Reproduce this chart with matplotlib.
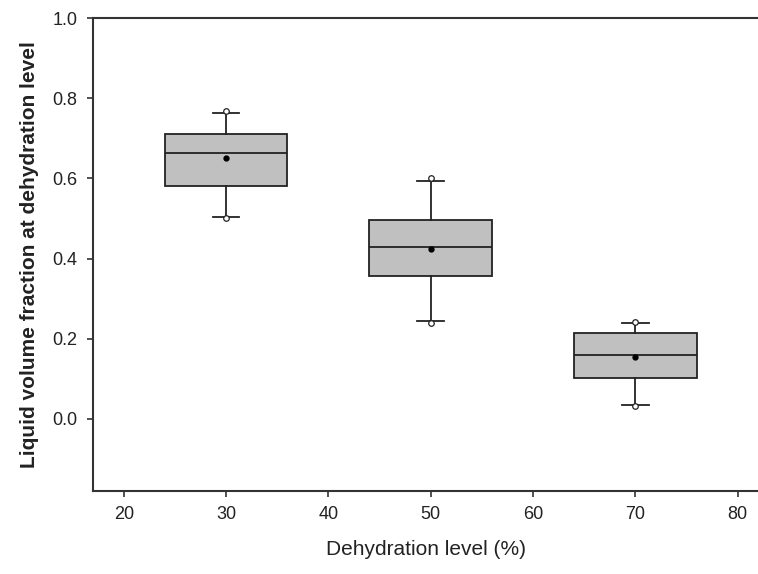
import matplotlib.pyplot as plt

plt.rcParams['font.family'] = ['Liberation Sans', 'DejaVu Sans']

# box statistics
levels = [30, 50, 70]
q1 = [0.582, 0.357, 0.101]
med = [0.663, 0.428, 0.159]
q3 = [0.711, 0.495, 0.214]
whis_lo = [0.504, 0.244, 0.034]
whis_hi = [0.762, 0.594, 0.238]
means = [0.651, 0.423, 0.154]
fliers = [[0.500, 0.768], [0.240, 0.600], [0.031, 0.241]]

stats = []
for i in range(len(levels)):
    stats.append({'q1': q1[i], 'med': med[i], 'q3': q3[i],
                  'whislo': whis_lo[i], 'whishi': whis_hi[i],
                  'mean': means[i], 'fliers': fliers[i]})

fig = plt.figure(figsize=(7.58, 5.74), dpi=100)
ax = fig.add_axes([0.1227, 0.1446, 0.8773, 0.824])

ax.bxp(stats, positions=levels, widths=12, patch_artist=True,
       showmeans=True, manage_ticks=False,
       boxprops=dict(facecolor='#c0c0c0', edgecolor='#222222', linewidth=1.3),
       medianprops=dict(color='#222222', linewidth=1.3),
       whiskerprops=dict(color='#222222', linewidth=1.3),
       capprops=dict(color='#222222', linewidth=1.3),
       capwidths=2.6,
       meanprops=dict(marker='o', markerfacecolor='black', markeredgecolor='black', markersize=3.5),
       flierprops=dict(marker='o', markerfacecolor='white', markeredgecolor='#222222',
                       markersize=4, markeredgewidth=0.9))

ax.set_xlim(17, 82)
ax.set_ylim(-0.18, 1.0)
ax.set_xticks([20, 30, 40, 50, 60, 70, 80])
ax.set_yticks([0.0, 0.2, 0.4, 0.6, 0.8, 1.0])
ax.set_yticklabels(['0.0', '0.2', '0.4', '0.6', '0.8', '1.0'])
ax.spines['right'].set_visible(False)
for s in ['left', 'bottom', 'top']:
    ax.spines[s].set_linewidth(1.5)
    ax.spines[s].set_color('#333333')
ax.tick_params(direction='out', length=4, width=1.2, color='#333333',
               labelsize=13, pad=7, labelcolor='#222222')

ax.set_xlabel('Dehydration level (%)', fontsize=15, labelpad=12, color='#222222')
ax.set_ylabel('Liquid volume fraction at dehydration level', fontsize=15,
              fontweight='bold', labelpad=10, color='#222222')

fig.savefig('out.png', dpi=100)
